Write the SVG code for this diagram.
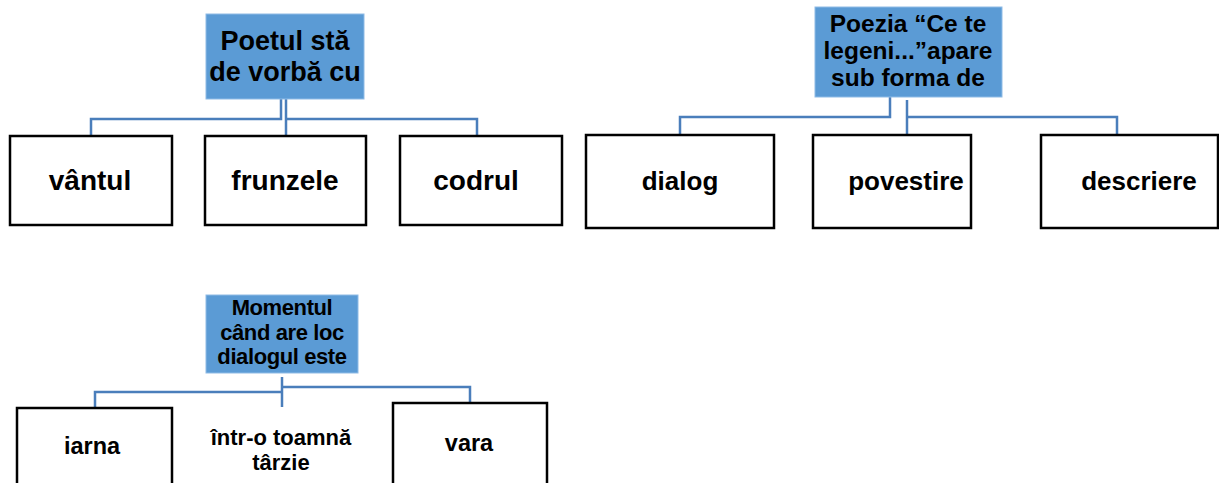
<svg xmlns="http://www.w3.org/2000/svg" width="1219" height="483" viewBox="0 0 1219 483">
  <style>
    .head { fill: #5b9bd5; stroke: #8fbbe6; stroke-width: 1; }
    .box { fill: #ffffff; stroke: #000000; stroke-width: 2.5; }
    .link { fill: none; stroke: #4a7ebb; stroke-width: 2.5; }
    text { font-family: "Liberation Sans", Arial, sans-serif; font-weight: bold; fill: #000000; text-anchor: middle; }
    .t1 { font-size: 27px; }
    .c1 { font-size: 28px; }
    .h2 { font-size: 24.5px; }
    .t2 { font-size: 26px; }
    .t3 { font-size: 22px; }
    .c3 { font-size: 23.5px; }
  </style>
  <rect width="1219" height="483" fill="#ffffff"/>

  <!-- connectors -->
  <g id="connectors">
    <path class="link" d="M281 99 V119 H91 V136"/>
    <path class="link" d="M286 99 V136"/>
    <path class="link" d="M286 119 H477 V136"/>

    <path class="link" d="M890 97 V117 H680 V135"/>
    <path class="link" d="M907 100 V135"/>
    <path class="link" d="M907 117 H1117 V135"/>

    <path class="link" d="M282 377 V407"/>
    <path class="link" d="M282 392 H95 V408"/>
    <path class="link" d="M282 387 H470 V403"/>
  </g>

  <!-- group 1 -->
  <g id="head1">
    <rect class="head" x="206" y="14" width="158" height="85"/>
    <text class="t1" x="285" y="50">Poetul stă</text>
    <text class="t1" x="285" y="81">de vorbă cu</text>
  </g>
  <g id="vantul">
    <rect class="box" x="10" y="136" width="162" height="89"/>
    <text class="c1" x="90" y="190">vântul</text>
  </g>
  <g id="frunzele">
    <rect class="box" x="205" y="136" width="161" height="89"/>
    <text class="c1" x="285" y="190">frunzele</text>
  </g>
  <g id="codrul">
    <rect class="box" x="400" y="136" width="162" height="89"/>
    <text class="c1" x="476" y="190">codrul</text>
  </g>

  <!-- group 2 -->
  <g id="head2">
    <rect class="head" x="815" y="7" width="187" height="90"/>
    <text class="h2" x="908" y="32">Poezia “Ce te</text>
    <text class="h2" x="908" y="59">legeni...”apare</text>
    <text class="h2" x="908" y="86">sub forma de</text>
  </g>
  <g id="dialog">
    <rect class="box" x="586" y="135" width="188" height="93"/>
    <text class="t2" x="680" y="190">dialog</text>
  </g>
  <g id="povestire">
    <rect class="box" x="813" y="135" width="158" height="93"/>
    <text class="t2" x="906" y="190">povestire</text>
  </g>
  <g id="descriere">
    <rect class="box" x="1041" y="135" width="177" height="93"/>
    <text class="t2" x="1139" y="190">descriere</text>
  </g>

  <!-- group 3 -->
  <g id="head3">
    <rect class="head" x="206" y="295" width="152" height="78"/>
    <text class="t3" x="282" y="315" letter-spacing="-0.4">Momentul</text>
    <text class="t3" x="282" y="340" letter-spacing="-0.4">când are loc</text>
    <text class="t3" x="282" y="364" letter-spacing="-0.4">dialogul este</text>
  </g>
  <g id="iarna">
    <rect class="box" x="17" y="408" width="155" height="90"/>
    <text class="c3" x="92" y="454">iarna</text>
  </g>
  <g id="toamna">
    <text class="t3" x="281" y="445">într-o toamnă</text>
    <text class="t3" x="281" y="470">târzie</text>
  </g>
  <g id="vara">
    <rect class="box" x="393" y="403" width="154" height="95"/>
    <text class="c3" x="469" y="451">vara</text>
  </g>
</svg>
